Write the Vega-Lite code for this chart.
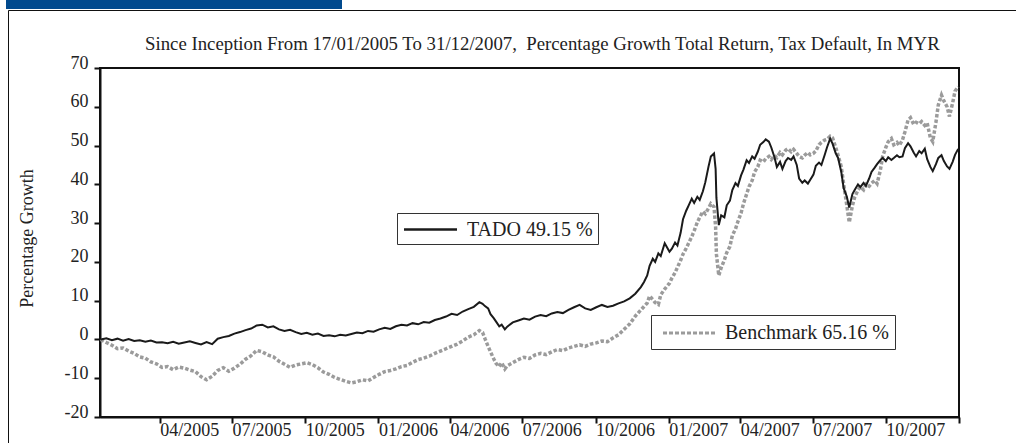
{
  "$schema": "https://vega.github.io/schema/vega-lite/v6.json",
  "autosize": {"type": "none"},
  "width": 859,
  "height": 349,
  "padding": {"left": 100, "top": 68, "right": 57, "bottom": 26},
  "background": "white",
  "title": {
    "text": "Since Inception From 17/01/2005 To 31/12/2007,\u00a0 Percentage Growth Total Return, Tax Default, In MYR",
    "frame": "group", "anchor": "start", "dx": 45, "dy": 69, "offset": 0,
    "baseline": "alphabetic", "font": "Liberation Serif", "fontSize": 18.8, "fontWeight": "normal", "color": "#222"
  },
  "config": {
    "font": "Liberation Serif",
    "view": {"stroke": "#111", "strokeWidth": 2},
    "axis": {
      "grid": false, "domainColor": "#111", "domainWidth": 2, "tickColor": "#111", "tickWidth": 2, "tickSize": 6,
      "labelFont": "Liberation Serif", "labelFontSize": 18, "labelColor": "#222",
      "titleFont": "Liberation Serif", "titleFontSize": 18, "titleFontWeight": "normal", "titleColor": "#222"
    }
  },
  "data": {"values": [
    {"d":"2005-01-17","t":0,"b":0},{"d":"2005-01-24","t":0.3,"b":-0.8},{"d":"2005-01-31","t":-0.2,"b":-1.5},
    {"d":"2005-02-07","t":0.2,"b":-2.4},{"d":"2005-02-14","t":-0.3,"b":-2.2},{"d":"2005-02-21","t":0.1,"b":-3.0},
    {"d":"2005-02-28","t":-0.4,"b":-3.6},{"d":"2005-03-07","t":-0.2,"b":-4.5},{"d":"2005-03-14","t":-0.6,"b":-4.8},
    {"d":"2005-03-21","t":-0.3,"b":-5.8},{"d":"2005-03-28","t":-0.8,"b":-6.3},{"d":"2005-04-04","t":-0.7,"b":-7.2},
    {"d":"2005-04-11","t":-1.0,"b":-7.0},{"d":"2005-04-18","t":-0.6,"b":-7.8},{"d":"2005-04-25","t":-1.1,"b":-7.1},
    {"d":"2005-05-02","t":-0.8,"b":-7.4},{"d":"2005-05-09","t":-0.5,"b":-7.9},{"d":"2005-05-16","t":-0.9,"b":-8.3},
    {"d":"2005-05-23","t":-1.3,"b":-9.6},{"d":"2005-05-30","t":-0.7,"b":-10.4},{"d":"2005-06-06","t":-1.2,"b":-9.5},
    {"d":"2005-06-13","t":0.2,"b":-8.0},{"d":"2005-06-20","t":0.6,"b":-7.3},{"d":"2005-06-27","t":0.9,"b":-8.2},
    {"d":"2005-07-04","t":1.5,"b":-7.4},{"d":"2005-07-11","t":1.9,"b":-6.4},{"d":"2005-07-18","t":2.4,"b":-5.1},
    {"d":"2005-07-25","t":2.8,"b":-4.2},{"d":"2005-08-01","t":3.6,"b":-2.8},{"d":"2005-08-08","t":3.8,"b":-3.2},
    {"d":"2005-08-15","t":3.1,"b":-4.0},{"d":"2005-08-22","t":3.4,"b":-4.5},{"d":"2005-08-29","t":2.6,"b":-5.6},
    {"d":"2005-09-05","t":2.2,"b":-6.4},{"d":"2005-09-12","t":2.5,"b":-7.2},{"d":"2005-09-19","t":1.9,"b":-6.6},
    {"d":"2005-09-26","t":1.4,"b":-6.3},{"d":"2005-10-03","t":1.7,"b":-6.0},{"d":"2005-10-10","t":1.2,"b":-6.5},
    {"d":"2005-10-17","t":1.5,"b":-7.3},{"d":"2005-10-24","t":0.9,"b":-8.4},{"d":"2005-10-31","t":1.1,"b":-9.0},
    {"d":"2005-11-07","t":0.8,"b":-9.8},{"d":"2005-11-14","t":1.2,"b":-10.3},{"d":"2005-11-21","t":1.0,"b":-10.8},
    {"d":"2005-11-28","t":1.4,"b":-11.2},{"d":"2005-12-05","t":1.8,"b":-10.9},{"d":"2005-12-12","t":1.6,"b":-10.4},
    {"d":"2005-12-19","t":2.2,"b":-10.7},{"d":"2005-12-26","t":2.0,"b":-9.8},
    {"d":"2006-01-02","t":2.6,"b":-9.0},{"d":"2006-01-09","t":3.0,"b":-8.3},{"d":"2006-01-16","t":2.7,"b":-8.0},
    {"d":"2006-01-23","t":3.4,"b":-7.6},{"d":"2006-01-30","t":3.8,"b":-7.0},{"d":"2006-02-06","t":3.6,"b":-6.7},
    {"d":"2006-02-13","t":4.2,"b":-5.9},{"d":"2006-02-20","t":3.9,"b":-5.2},{"d":"2006-02-27","t":4.5,"b":-4.8},
    {"d":"2006-03-06","t":4.3,"b":-4.3},{"d":"2006-03-13","t":5.0,"b":-3.6},{"d":"2006-03-20","t":5.4,"b":-3.0},
    {"d":"2006-03-27","t":5.9,"b":-2.4},{"d":"2006-04-03","t":6.6,"b":-1.8},{"d":"2006-04-10","t":6.3,"b":-1.2},
    {"d":"2006-04-17","t":7.2,"b":-0.4},{"d":"2006-04-24","t":7.8,"b":0.6},{"d":"2006-05-01","t":8.4,"b":1.2},
    {"d":"2006-05-08","t":9.6,"b":2.3},{"d":"2006-05-12","t":9.2,"b":1.8},{"d":"2006-05-15","t":8.6,"b":0.2},
    {"d":"2006-05-19","t":8.0,"b":-1.8},{"d":"2006-05-22","t":6.5,"b":-3.2},{"d":"2006-05-26","t":5.5,"b":-5.0},
    {"d":"2006-05-29","t":4.6,"b":-6.2},{"d":"2006-06-02","t":3.4,"b":-7.0},{"d":"2006-06-05","t":3.8,"b":-6.0},
    {"d":"2006-06-09","t":2.6,"b":-7.6},{"d":"2006-06-12","t":3.3,"b":-6.8},{"d":"2006-06-19","t":4.4,"b":-6.0},
    {"d":"2006-06-26","t":4.9,"b":-5.2},{"d":"2006-07-03","t":5.4,"b":-4.6},{"d":"2006-07-10","t":5.1,"b":-4.9},
    {"d":"2006-07-17","t":5.9,"b":-4.0},{"d":"2006-07-24","t":6.3,"b":-3.6},{"d":"2006-07-31","t":6.0,"b":-3.9},
    {"d":"2006-08-07","t":6.7,"b":-3.2},{"d":"2006-08-14","t":7.1,"b":-2.6},{"d":"2006-08-21","t":6.8,"b":-2.9},
    {"d":"2006-08-28","t":7.6,"b":-2.2},{"d":"2006-09-04","t":8.3,"b":-1.8},{"d":"2006-09-11","t":8.9,"b":-1.4},
    {"d":"2006-09-18","t":8.0,"b":-1.8},{"d":"2006-09-25","t":7.6,"b":-1.2},{"d":"2006-10-02","t":8.3,"b":-0.9},
    {"d":"2006-10-09","t":8.9,"b":-0.4},{"d":"2006-10-16","t":8.4,"b":-0.6},{"d":"2006-10-23","t":8.7,"b":0.4},
    {"d":"2006-10-30","t":9.3,"b":1.2},{"d":"2006-11-06","t":9.8,"b":2.6},{"d":"2006-11-13","t":10.6,"b":4.0},
    {"d":"2006-11-20","t":11.8,"b":6.0},{"d":"2006-11-27","t":13.5,"b":7.6},{"d":"2006-12-01","t":14.8,"b":8.5},
    {"d":"2006-12-05","t":16.5,"b":9.4},{"d":"2006-12-08","t":19.0,"b":11.2},{"d":"2006-12-12","t":20.8,"b":10.3},
    {"d":"2006-12-15","t":20.0,"b":9.5},{"d":"2006-12-19","t":22.2,"b":9.0},{"d":"2006-12-22","t":21.5,"b":11.5},
    {"d":"2006-12-27","t":24.8,"b":13.0},
    {"d":"2007-01-02","t":22.6,"b":14.5},{"d":"2007-01-05","t":23.4,"b":15.8},{"d":"2007-01-09","t":25.0,"b":17.2},
    {"d":"2007-01-12","t":24.2,"b":18.6},{"d":"2007-01-16","t":27.5,"b":20.4},{"d":"2007-01-19","t":31.0,"b":22.0},
    {"d":"2007-01-23","t":33.2,"b":23.5},{"d":"2007-01-26","t":34.5,"b":24.8},{"d":"2007-01-30","t":36.3,"b":26.5},
    {"d":"2007-02-02","t":35.2,"b":28.0},{"d":"2007-02-06","t":36.8,"b":30.2},{"d":"2007-02-09","t":36.0,"b":31.5},
    {"d":"2007-02-13","t":38.2,"b":33.0},{"d":"2007-02-16","t":40.5,"b":32.4},{"d":"2007-02-20","t":44.5,"b":33.8},
    {"d":"2007-02-23","t":47.2,"b":35.0},{"d":"2007-02-27","t":48.0,"b":34.2},{"d":"2007-03-01","t":44.0,"b":29.0},
    {"d":"2007-03-02","t":36.5,"b":22.0},{"d":"2007-03-05","t":29.5,"b":16.5},{"d":"2007-03-08","t":32.0,"b":18.5},
    {"d":"2007-03-12","t":31.5,"b":20.5},{"d":"2007-03-15","t":34.6,"b":22.4},{"d":"2007-03-19","t":35.8,"b":24.0},
    {"d":"2007-03-22","t":38.5,"b":26.8},{"d":"2007-03-26","t":40.3,"b":28.5},{"d":"2007-03-29","t":39.6,"b":30.4},
    {"d":"2007-04-02","t":42.3,"b":32.6},{"d":"2007-04-05","t":43.8,"b":35.0},{"d":"2007-04-09","t":46.2,"b":37.5},
    {"d":"2007-04-12","t":45.5,"b":39.4},{"d":"2007-04-16","t":47.2,"b":41.0},{"d":"2007-04-19","t":46.6,"b":43.2},
    {"d":"2007-04-23","t":48.4,"b":44.5},{"d":"2007-04-26","t":50.2,"b":46.2},{"d":"2007-04-30","t":50.9,"b":45.8},
    {"d":"2007-05-03","t":51.6,"b":46.6},{"d":"2007-05-07","t":51.0,"b":47.2},{"d":"2007-05-10","t":49.5,"b":46.4},
    {"d":"2007-05-14","t":47.0,"b":47.4},{"d":"2007-05-17","t":44.5,"b":46.9},{"d":"2007-05-21","t":45.8,"b":48.2},
    {"d":"2007-05-24","t":44.0,"b":47.6},{"d":"2007-05-28","t":46.0,"b":48.8},{"d":"2007-05-31","t":46.8,"b":49.2},
    {"d":"2007-06-04","t":46.3,"b":48.4},{"d":"2007-06-07","t":47.2,"b":49.0},{"d":"2007-06-11","t":45.0,"b":48.0},
    {"d":"2007-06-14","t":41.5,"b":47.2},{"d":"2007-06-18","t":40.4,"b":46.8},{"d":"2007-06-21","t":41.0,"b":47.5},
    {"d":"2007-06-25","t":40.2,"b":48.2},{"d":"2007-06-28","t":41.2,"b":47.6},{"d":"2007-07-02","t":42.5,"b":48.0},
    {"d":"2007-07-05","t":44.8,"b":48.6},{"d":"2007-07-09","t":45.6,"b":50.2},{"d":"2007-07-12","t":45.0,"b":50.8},
    {"d":"2007-07-16","t":47.5,"b":51.4},{"d":"2007-07-19","t":49.5,"b":51.6},{"d":"2007-07-23","t":51.8,"b":52.4},
    {"d":"2007-07-26","t":50.5,"b":52.0},{"d":"2007-07-30","t":48.0,"b":49.5},{"d":"2007-08-02","t":46.8,"b":47.5},
    {"d":"2007-08-06","t":43.2,"b":44.5},{"d":"2007-08-09","t":39.0,"b":40.0},{"d":"2007-08-13","t":36.8,"b":34.5},
    {"d":"2007-08-16","t":34.0,"b":30.2},{"d":"2007-08-20","t":37.5,"b":34.5},{"d":"2007-08-23","t":38.6,"b":36.8},
    {"d":"2007-08-27","t":40.0,"b":38.5},{"d":"2007-08-30","t":39.3,"b":39.4},{"d":"2007-09-03","t":40.4,"b":38.6},
    {"d":"2007-09-06","t":39.6,"b":40.0},{"d":"2007-09-10","t":41.5,"b":39.5},{"d":"2007-09-13","t":43.2,"b":40.3},
    {"d":"2007-09-17","t":44.3,"b":41.0},{"d":"2007-09-20","t":45.2,"b":40.2},{"d":"2007-09-24","t":46.2,"b":43.5},
    {"d":"2007-09-27","t":46.8,"b":47.2},{"d":"2007-10-01","t":46.0,"b":49.5},{"d":"2007-10-04","t":47.0,"b":51.0},
    {"d":"2007-10-08","t":46.3,"b":51.8},{"d":"2007-10-11","t":46.8,"b":50.2},{"d":"2007-10-15","t":47.5,"b":50.8},
    {"d":"2007-10-18","t":47.0,"b":50.0},{"d":"2007-10-22","t":47.2,"b":51.5},{"d":"2007-10-25","t":49.3,"b":53.5},
    {"d":"2007-10-29","t":50.6,"b":56.6},{"d":"2007-11-01","t":49.8,"b":57.2},{"d":"2007-11-05","t":48.2,"b":55.5},
    {"d":"2007-11-08","t":47.2,"b":56.0},{"d":"2007-11-12","t":48.6,"b":55.6},{"d":"2007-11-15","t":48.0,"b":56.2},
    {"d":"2007-11-19","t":49.2,"b":55.2},{"d":"2007-11-22","t":46.5,"b":55.8},{"d":"2007-11-26","t":44.5,"b":52.0},
    {"d":"2007-11-29","t":43.4,"b":51.0},{"d":"2007-12-03","t":45.2,"b":56.0},{"d":"2007-12-06","t":46.8,"b":60.5},
    {"d":"2007-12-10","t":47.5,"b":63.0},{"d":"2007-12-13","t":46.0,"b":61.5},{"d":"2007-12-17","t":44.6,"b":60.0},
    {"d":"2007-12-20","t":44.0,"b":57.5},{"d":"2007-12-24","t":45.8,"b":61.0},{"d":"2007-12-27","t":47.6,"b":64.0},
    {"d":"2007-12-31","t":49.15,"b":65.16}
  ]},
  "transform": [{"fold": ["b", "t"], "as": ["series", "v"]}],
  "encoding": {
    "x": {
      "field": "d", "type": "temporal",
      "scale": {"domain": [{"year": 2005, "month": 1, "date": 16}, {"year": 2008, "month": 1, "date": 1}]},
      "axis": {
        "title": null,
        "values": [
          {"year": 2005, "month": 4, "date": 1}, {"year": 2005, "month": 7, "date": 1}, {"year": 2005, "month": 10, "date": 1},
          {"year": 2006, "month": 1, "date": 1}, {"year": 2006, "month": 4, "date": 1}, {"year": 2006, "month": 7, "date": 1},
          {"year": 2006, "month": 10, "date": 1}, {"year": 2007, "month": 1, "date": 1}, {"year": 2007, "month": 4, "date": 1},
          {"year": 2007, "month": 7, "date": 1}, {"year": 2007, "month": 10, "date": 1}, {"year": 2008, "month": 1, "date": 1}
        ],
        "labelExpr": "datum.value > datetime(2007, 11, 15) ? '' : timeFormat(datum.value, '%m/%Y')",
        "labelAlign": "left", "labelDx": 2, "labelBaseline": "alphabetic", "labelPadding": 12,
        "labelFlush": false, "labelOverlap": false, "labelBound": false
      }
    },
    "y": {
      "field": "v", "type": "quantitative", "title": "Percentage Growth",
      "scale": {"domain": [-20, 70], "nice": false, "zero": false},
      "axis": {
        "values": [-20, -10, 0, 10, 20, 30, 40, 50, 60, 70], "labelExpr": "'' + datum.value", "labelOverlap": false,
        "labelAlign": "right", "labelBaseline": "alphabetic", "labelDy": 1.5, "labelPadding": 6,
        "titleX": -64, "titleY": 170, "titleAlign": "center", "titleAngle": -90, "titleBaseline": "bottom"
      }
    }
  },
  "layer": [
    {
      "transform": [{"filter": "datum.series == 'b'"}],
      "mark": {"type": "line", "strokeWidth": 3.5, "strokeDash": [3.5, 2], "strokeCap": "butt"},
      "encoding": {
        "color": {
          "datum": "Benchmark 65.16 %",
          "scale": {"range": ["#9b9b9b"]},
          "legend": {
            "orient": "none", "legendX": 551, "legendY": 247, "title": null,
            "symbolType": "M-0.571,0H4.381", "symbolSize": 441, "symbolStrokeWidth": 3, "symbolDash": [4, 2],
            "labelFont": "Liberation Serif", "labelFontSize": 20, "labelColor": "#222", "labelLimit": 400, "labelOffset": 44,
            "padding": 6, "strokeColor": "#333", "fillColor": "white"
          }
        }
      }
    },
    {
      "transform": [{"filter": "datum.series == 't'"}],
      "mark": {"type": "line", "strokeWidth": 2},
      "encoding": {
        "color": {
          "datum": "TADO 49.15 %",
          "scale": {"range": ["#1a1a1a"]},
          "legend": {
            "orient": "none", "legendX": 297, "legendY": 145, "title": null,
            "symbolType": "M-0.905,0H4.143", "symbolSize": 441, "symbolStrokeWidth": 2.5,
            "labelFont": "Liberation Serif", "labelFontSize": 20, "labelColor": "#222", "labelLimit": 400, "labelOffset": 41.5,
            "padding": 4.5, "strokeColor": "#333", "fillColor": "white"
          }
        }
      }
    },
    {
      "transform": [{"filter": "datum.series == 't'"}],
      "mark": {"type": "point", "opacity": 0},
      "encoding": {
        "shape": {
          "datum": "frame",
          "legend": {
            "orient": "none", "legendX": -92, "legendY": -58, "title": null,
            "symbolOpacity": 0, "labelExpr": "''", "padding": 700, "strokeColor": "#111",
            "encode": {"legend": {"update": {"strokeWidth": {"value": 2.5}}}}
          }
        }
      }
    },
    {
      "transform": [{"filter": "datum.series == 't'"}],
      "mark": {"type": "point", "opacity": 0},
      "encoding": {
        "fill": {
          "datum": 1, "type": "quantitative",
          "scale": {"domain": [0, 2], "range": ["#014a8e", "#014a8e"]},
          "legend": {
            "orient": "none", "legendX": -94, "legendY": -68, "title": null, "direction": "horizontal",
            "gradientLength": 336, "gradientThickness": 9, "gradientStrokeWidth": 0, "labelOpacity": 0, "labelExpr": "''", "padding": 0
          }
        }
      }
    }
  ],
  "resolve": {"scale": {"color": "independent"}, "legend": {"color": "independent"}}
}
